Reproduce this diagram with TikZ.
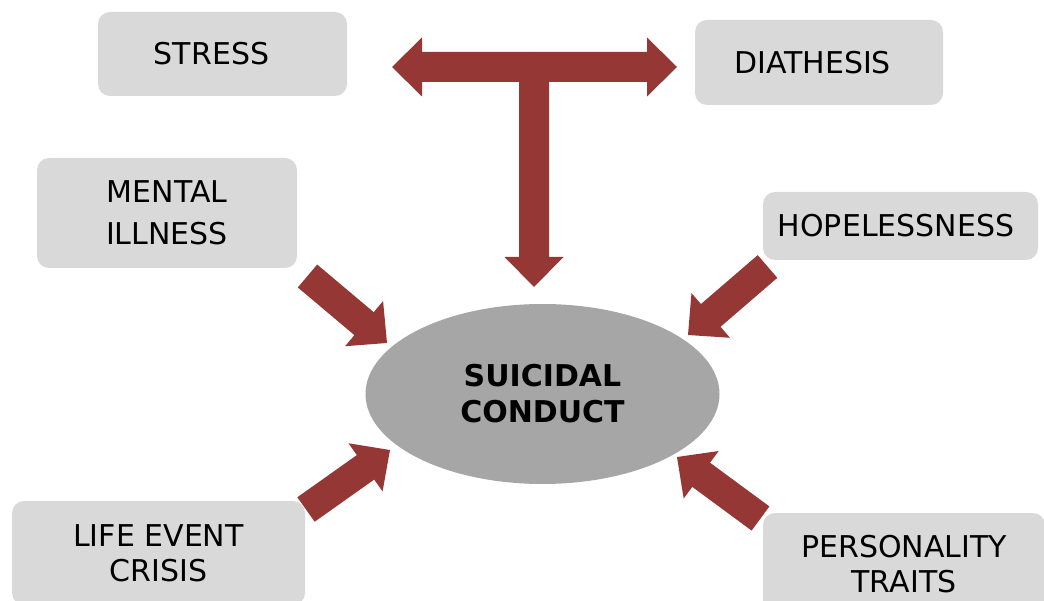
\documentclass[tikz,border=0pt]{standalone}
\usepackage{fontspec}
\setmainfont{DejaVu Sans}
\usetikzlibrary{calc,shapes.geometric}
\definecolor{boxgray}{HTML}{D9D9D9}
\definecolor{ellgray}{HTML}{A6A6A6}
\definecolor{arrowred}{HTML}{953735}
\newcommand\blockarrow[2]{%
  \coordinate (hb) at ($(#2)!30pt!(#1)$);
  \fill[arrowred] ($(#1)!15pt!90:(#2)$) -- ($(hb)!15pt!90:(#2)$) -- ($(hb)!29.5pt!90:(#2)$) -- (#2)
     -- ($(hb)!29.5pt!-90:(#2)$) -- ($(hb)!15pt!-90:(#2)$) -- ($(#1)!15pt!-90:(#2)$) -- cycle;}
\tikzset{
  box/.style={fill=boxgray, rounded corners=12pt, align=center, inner sep=0pt,
    font=\fontsize{30}{35}\selectfont},
}
\begin{document}
\begin{tikzpicture}[x=1pt,y=-1pt]
\useasboundingbox (0,0) rectangle (1044,601);
\clip (0,0) rectangle (1044,601);
% central ellipse
\node[ellipse, fill=ellgray, minimum width=354pt, minimum height=180pt, inner sep=0pt,
  align=center, font=\bfseries\fontsize{30}{36}\selectfont] (sc) at (542.5,394) {SUICIDAL\\CONDUCT};
% arrow coordinates
\coordinate (tc) at (534,67);
\coordinate (tl) at (392,67);
\coordinate (tr) at (677,67);
\coordinate (td) at (534,287);
\coordinate (m1) at (307.5,276); \coordinate (m2) at (387,343);
\coordinate (h1) at (767.5,266.5); \coordinate (h2) at (688,335);
\coordinate (l1) at (306,509.5); \coordinate (l2) at (390,450);
\coordinate (p1) at (760.5,518.5); \coordinate (p2) at (677,457);
% arrows
\blockarrow{tc}{tl}
\blockarrow{tc}{tr}
\blockarrow{tc}{td}
\blockarrow{m1}{m2}
\blockarrow{h1}{h2}
\blockarrow{l1}{l2}
\blockarrow{p1}{p2}
% boxes
\node[box, minimum width=249pt, minimum height=84pt] (stress) at (222.5,54) {STRESS\hspace*{22pt}};
\node[box, minimum width=248pt, minimum height=85pt] (diath) at (819,62.5) {DIATHESIS\hspace*{13pt}};
\node[box, minimum width=260pt, minimum height=110pt, font=\fontsize{30}{42}\selectfont] (mental) at (167,213) {MENTAL\\ILLNESS};
\node[box, minimum width=275pt, minimum height=68pt] (hope) at (900.5,226) {HOPELESSNESS\hspace*{9pt}};
\node[box, minimum width=293pt, minimum height=104pt] (life) at (158.5,553) {LIFE EVENT\\CRISIS};
\node[box, minimum width=282pt, minimum height=102pt] (pers) at (904,564) {PERSONALITY\\TRAITS};
\end{tikzpicture}
\end{document}
